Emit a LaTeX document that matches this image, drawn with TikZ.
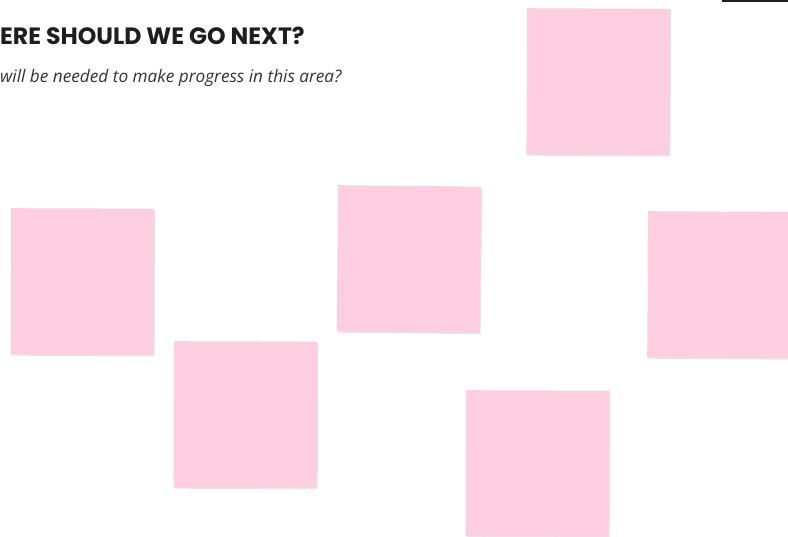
\documentclass[tikz,border=0pt]{standalone}
\usepackage{fontspec}
\setmainfont{Open Sans}
\newfontfamily\titlefont{Poppins}
\newfontfamily\subfont{Open Sans}
\definecolor{stickypink}{HTML}{FDCDE0}
\definecolor{stickyshade}{HTML}{E6E2E4}
\definecolor{inkdark}{HTML}{1E1E1E}
\definecolor{subgray}{HTML}{333333}
\usetikzlibrary{shadows}
\tikzset{
  sticky/.style={fill=stickypink, draw=none, minimum width=143pt, minimum height=146pt, inner sep=0pt, anchor=north west,
    drop shadow={shadow xshift=1pt, shadow yshift=-1.5pt, fill=stickyshade, opacity=0.9}},
  titletext/.style={anchor=base west, inner sep=0pt, text=inkdark, font=\titlefont\bfseries\fontsize{23.6}{28}\selectfont},
  subtext/.style={anchor=base west, inner sep=0pt, text=subgray, font=\subfont\itshape\fontsize{17.2}{20}\selectfont}
}
\begin{document}
\begin{tikzpicture}[x=1pt,y=-1pt]
\useasboundingbox (0,0) rectangle (788,537);
\fill[white] (0,0) rectangle (788,537);
\fill[inkdark] (722,0) rectangle (788,2.2);
\node[titletext] (title) at (0,45) {ERE SHOULD WE GO NEXT?};
\node[subtext] (sub) at (0,83) {will be needed to make progress in this area?};
\node[sticky, rotate=-0.3] (s1) at (527,8) {};
\node[sticky, rotate=-0.2] (s2) at (11,208) {};
\node[sticky, rotate=-0.6] (s3) at (338,185) {};
\node[sticky, rotate=-0.4] (s4) at (648,211) {};
\node[sticky, rotate=-0.2] (s5) at (174,341) {};
\node[sticky, rotate=-0.2] (s6) at (466,390) {};
\end{tikzpicture}
\end{document}
